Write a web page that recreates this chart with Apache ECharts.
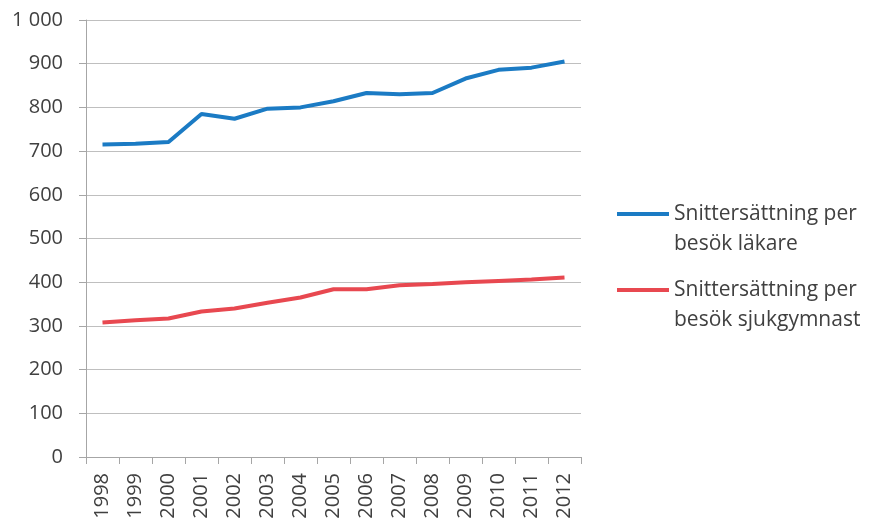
<!DOCTYPE html>
<html>
<head>
<meta charset="utf-8">
<script src="https://cdn.jsdelivr.net/npm/echarts@6/dist/echarts.min.js"></script>
<style>html,body{margin:0;padding:0;background:#fff}#c{width:876px;height:522px}</style>
</head>
<body>
<div id="c"></div>
<script>
var years = ['1998','1999','2000','2001','2002','2003','2004','2005','2006','2007','2008','2009','2010','2011','2012'];
var lakare = [715, 717, 721, 785, 774, 797, 800, 814, 833, 830, 833, 866, 886, 891, 905];
var sjukgymnast = [308, 313, 317, 333, 340, 353, 365, 384, 384, 393, 396, 400, 403, 406, 411];
var nameLakare = 'Snittersättning per besök läkare';
var nameSjuk = 'Snittersättning per besök sjukgymnast';
var legendText = {};
legendText[nameLakare] = 'Snittersättning per\nbesök läkare';
legendText[nameSjuk] = 'Snittersättning per\nbesök sjukgymnast';

var chart = echarts.init(document.getElementById('c'));
var font = 'Open Sans';
chart.setOption({
  animation: false,
  grid: {left: 86, right: 295, top: 20, bottom: 65, containLabel: false},
  legend: {
    orient: 'vertical',
    left: 617,
    top: 169,
    padding: 0,
    itemWidth: 52,
    itemHeight: 4,
    itemGap: -14,
    icon: 'rect',
    data: [nameLakare, nameSjuk],
    formatter: function (n) { return '\n' + legendText[n]; },
    textStyle: {fontFamily: font, fontSize: 21, color: '#404040', lineHeight: 30}
  },
  xAxis: {
    type: 'category',
    data: years,
    boundaryGap: true,
    axisLine: {lineStyle: {color: '#A6A6A6', width: 1}},
    axisTick: {show: true, length: 7, lineStyle: {color: '#A6A6A6'}},
    axisLabel: {rotate: 90, fontFamily: font, fontSize: 20, color: '#404040', margin: 16, interval: 0}
  },
  yAxis: {
    type: 'value',
    min: 0, max: 1000, interval: 100,
    axisLine: {show: true, lineStyle: {color: '#A6A6A6', width: 1}},
    axisTick: {show: true, length: 7, lineStyle: {color: '#A6A6A6'}},
    splitLine: {lineStyle: {color: '#BFBFBF', width: 1}},
    axisLabel: {
      fontFamily: font, fontSize: 20, color: '#404040', margin: 23,
      formatter: function (v) { return String(v).replace(/\B(?=(\d{3})+(?!\d))/g, ' '); }
    }
  },
  series: [
    {name: nameLakare, type: 'line', data: lakare, showSymbol: false, symbol: 'none',
     lineStyle: {color: '#1B7BC4', width: 4}, itemStyle: {color: '#1B7BC4'}},
    {name: nameSjuk, type: 'line', data: sjukgymnast, showSymbol: false, symbol: 'none',
     lineStyle: {color: '#E84850', width: 4}, itemStyle: {color: '#E84850'}}
  ]
});
</script>
</body>
</html>
